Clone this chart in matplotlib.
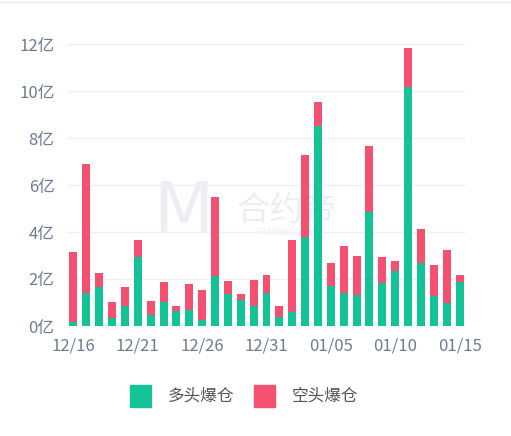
import matplotlib
matplotlib.use("Agg")
import matplotlib.pyplot as plt
from matplotlib.patches import Rectangle
from matplotlib.lines import Line2D

plt.rcParams['font.family'] = ['Noto Sans CJK SC', 'DejaVu Sans']

dates = ["12/16", "12/17", "12/18", "12/19", "12/20", "12/21", "12/22", "12/23",
         "12/24", "12/25", "12/26", "12/27", "12/28", "12/29", "12/30", "12/31",
         "01/01", "01/02", "01/03", "01/04", "01/05", "01/06", "01/07", "01/08",
         "01/09", "01/10", "01/11", "01/12", "01/13", "01/14", "01/15"]
# 多头爆仓 (long liquidations), 亿
long_liq = [0.19, 1.41, 1.68, 0.33, 0.87, 2.93, 0.48, 1.01, 0.63, 0.67, 0.26,
            2.13, 1.37, 1.10, 0.87, 1.40, 0.40, 0.60, 3.78, 8.51, 1.71, 1.40,
            1.30, 4.85, 1.83, 2.33, 10.18, 2.67, 1.28, 0.98, 1.87]
# totals (long + short), 亿
totals = [3.14, 6.91, 2.26, 1.01, 1.68, 3.64, 1.07, 1.88, 0.87, 1.80, 1.53,
          5.48, 1.90, 1.37, 1.97, 2.17, 0.83, 3.65, 7.29, 9.54, 2.68, 3.40,
          2.97, 7.68, 2.94, 2.78, 11.85, 4.11, 2.60, 3.23, 2.18]
short_liq = [round(t - l, 2) for t, l in zip(totals, long_liq)]

yticks = [0, 2, 4, 6, 8, 10, 12]
ytick_labels = ["0亿", "2亿", "4亿", "6亿", "8亿", "10亿", "12亿"]
xtick_idx = [0, 5, 10, 15, 20, 25, 30]
legend_labels = ["多头爆仓", "空头爆仓"]

GREEN = "#13c296"
RED = "#f3516f"
TICK_C = "#6e7a96"

fig = plt.figure(figsize=(5.11, 4.36), dpi=100)
ax = fig.add_axes([67/511, 1 - 326/436, (466 - 67)/511, (326 - 44)/436])

x = list(range(len(dates)))
ax.bar(x, long_liq, width=0.62, color=GREEN, zorder=3)
ax.bar(x, short_liq, width=0.62, bottom=long_liq, color=RED, zorder=3)

ax.set_xlim(-0.5, len(dates) - 0.5)
ax.set_ylim(0, 12)
ax.set_yticks(yticks)
ax.set_yticklabels(ytick_labels)
ax.set_xticks(xtick_idx)
ax.set_xticklabels([dates[i] for i in xtick_idx])
ax.tick_params(axis='both', length=0, colors=TICK_C, labelsize=12)
ax.tick_params(axis='y', pad=9)
ax.tick_params(axis='x', pad=8)
ax.grid(axis='y', color="#eef0f4", linewidth=1, zorder=0)
for s in ax.spines.values():
    s.set_visible(False)

# watermark (behind bars)
wm = "#eceef2"
ax.text(183/511, 1 - 212/436, "M", fontsize=50, color=wm, ha='center',
        va='center', family=['DejaVu Sans'], transform=fig.transFigure, zorder=1)
ax.text(287/511, 1 - 210/436, "合约帝", fontsize=24, color=wm, ha='center',
        va='center', transform=fig.transFigure, zorder=1)
ax.text(287/511, 1 - 232/436, "TRADING LEVEL", fontsize=6, color=wm,
        ha='center', va='center', transform=fig.transFigure, zorder=1)

# top border line
fig.add_artist(Line2D([0, 1], [1 - 2.5/436, 1 - 2.5/436], color="#ebebeb", linewidth=1))

# legend
for (x0, tx, col, lab) in [(130, 168, GREEN, legend_labels[0]), (254, 292, RED, legend_labels[1])]:
    fig.add_artist(Rectangle((x0/511, 1 - 407/436), 21/511, 22/436,
                             color=col, transform=fig.transFigure))
    fig.text(tx/511, 1 - 396/436, lab, fontsize=12, color="#555555",
             ha='left', va='center')

fig.savefig("out.png", dpi=100, facecolor="white")
